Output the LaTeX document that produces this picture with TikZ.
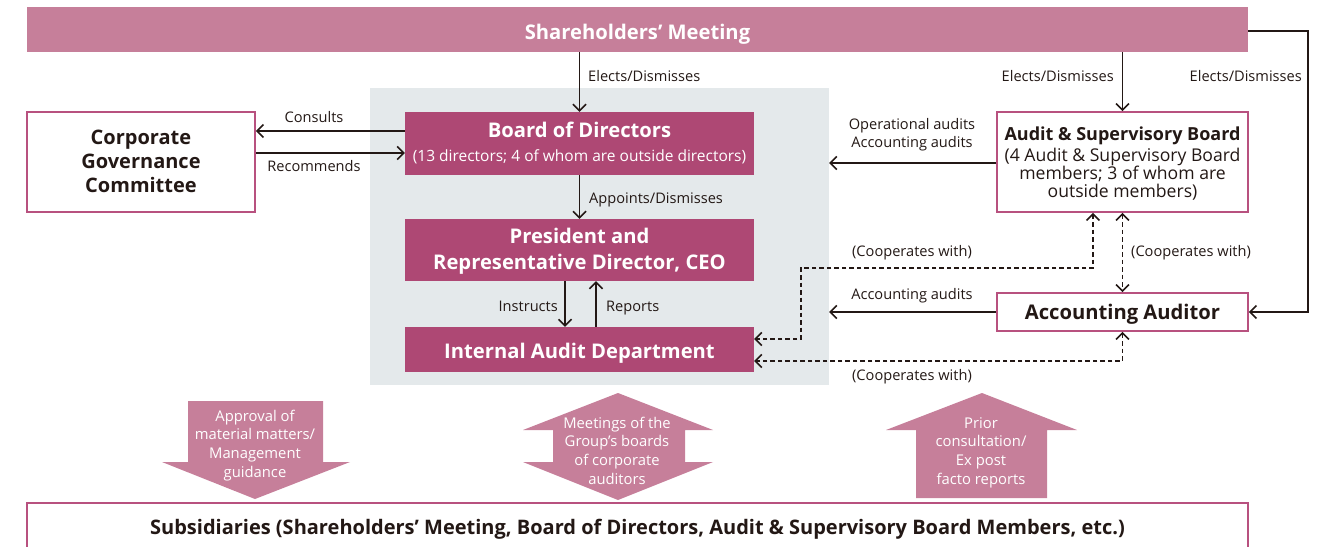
\documentclass[tikz,border=0pt]{standalone}
\usepackage{fontspec}
\setmainfont{Open Sans}
\usetikzlibrary{arrows.meta,calc}
\definecolor{barpink}{HTML}{C67F9A}
\definecolor{boxmag}{HTML}{AE4874}
\definecolor{edgepink}{HTML}{B8517F}
\definecolor{bggray}{HTML}{E4E9EB}
\definecolor{ink}{HTML}{231815}
\tikzset{
  lbl/.style={font=\fontsize{14.6}{18}\selectfont, text=ink, inner sep=0pt, anchor=base},
  darkbox/.style={fill=boxmag, inner sep=0pt},
  whitebox/.style={draw=edgepink, line width=1.8pt, fill=white, inner sep=0pt},
  wtxt/.style={text=white, inner sep=0pt, align=center, anchor=base},
  ktxt/.style={text=ink, inner sep=0pt, align=center, anchor=base},
  bigb/.style={font=\fontsize{20.2}{26}\selectfont\bfseries},
  tipx/.tip={Straight Barb[length=6.5pt,width=13pt,line width=1.5pt]},
  arr/.style={draw=ink, line width=1.5pt, -tipx},
  darr/.style={draw=ink, line width=1.5pt, dash pattern=on 4.5pt off 3pt, tipx-tipx},
  blk/.style={fill=barpink},
  blktxt/.style={text=white, align=center, inner sep=0pt, anchor=base, font=\fontsize{14.8}{18.8}\selectfont},
}
\begin{document}
\begin{tikzpicture}[x=1pt,y=-1pt]
\useasboundingbox (0,0) rectangle (1322,546);
% background
\node[fill=bggray, minimum width=459pt, minimum height=297pt, inner sep=0pt] (bg) at (599.5,236.5) {};
% top bar
\node[fill=barpink, minimum width=1221pt, minimum height=45pt, inner sep=0pt] (sm) at (637.5,29.5) {};
\node[wtxt, bigb] (smt) at (637.5,39.3) {Shareholders’ Meeting};
% main boxes
\node[darkbox, minimum width=349pt, minimum height=63pt] (bod) at (579.5,143.5) {};
\node[wtxt, bigb] (bodt) at (579.5,137.3) {Board of Directors};
\node[wtxt, font=\fontsize{15.5}{18}\selectfont] (bods) at (579.5,161) {(13 directors; 4 of whom are outside directors)};
\node[darkbox, minimum width=349pt, minimum height=62pt] (pres) at (579.5,250) {};
\node[wtxt, bigb] (prest) at (579.5,269.5) {President and\\Representative Director, CEO};
\node[darkbox, minimum width=349pt, minimum height=45pt] (iad) at (579.5,349.5) {};
\node[wtxt, bigb] (iadt) at (579.5,358.3) {Internal Audit Department};
\node[whitebox, minimum width=228pt, minimum height=100pt] (cgc) at (141,162) {};
\node[ktxt, font=\fontsize{20}{24.2}\selectfont\bfseries] (cgct) at (141,192.5) {Corporate\\Governance\\Committee};
\node[whitebox, minimum width=251pt, minimum height=100pt] (asb) at (1122.5,162) {};
\node[ktxt, font=\fontsize{18}{20}\selectfont\bfseries] (asbt) at (1122.5,140) {Audit \& Supervisory Board};
\node[ktxt, font=\fontsize{17.6}{17.9}\selectfont] (asbs) at (1122.5,197.5) {(4 Audit \& Supervisory Board\\members; 3 of whom are\\outside members)};
\node[whitebox, minimum width=251pt, minimum height=38pt] (aa) at (1122.5,312) {};
\node[ktxt, bigb] (aat) at (1122.5,319.8) {Accounting Auditor};
% subsidiaries
\node[whitebox, minimum width=1221pt, minimum height=60pt, anchor=north] (subs) at (637.5,502) {};
\node[ktxt, font=\fontsize{20}{26}\selectfont\bfseries] (subst) at (637.5,534)
  {Subsidiaries (Shareholders’ Meeting, Board of Directors, Audit \& Supervisory Board Members, etc.)};
% connectors
\draw[arr] (bod.north |- sm.south) -- (bod.north);
\node[lbl, anchor=base west] (l1) at (588,81.5) {Elects/Dismisses};
\draw[arr] (asb.north |- sm.south) -- (asb.north);
\node[lbl, anchor=base east] (l2) at (1114,81.5) {Elects/Dismisses};
\draw[arr] (sm.east |- 0,31) -- (1308,31) |- (aa.east);
\node[lbl, anchor=base east] (l3) at (1302,81.5) {Elects/Dismisses};
\draw[arr] (bod.west |- 0,131) -- (cgc.east |- 0,131);
\node[lbl] (l4) at (314,122.5) {Consults};
\draw[arr] (cgc.east |- 0,153) -- (bod.west |- 0,153);
\node[lbl] (l5) at (314,171) {Recommends};
\draw[arr] (bod.south) -- (pres.north);
\node[lbl, anchor=base west] (l6) at (589,203.3) {Appoints/Dismisses};
\draw[arr] (pres.south -| 565,0) -- (iad.north -| 565,0);
\node[lbl, anchor=base east] (l7) at (558,311.7) {Instructs};
\draw[arr] (iad.north -| 596,0) -- (pres.south -| 596,0);
\node[lbl, anchor=base west] (l8) at (606,311.7) {Reports};
\draw[arr] (asb.west |- 0,163) -- (bg.east |- 0,163);
\node[lbl, align=center] (l9) at (912,147.5) {Operational audits\\Accounting audits};
\draw[arr] (aa.west) -- (bg.east |- aa.west);
\node[lbl] (l10) at (912,299) {Accounting audits};
\draw[darr] (asb.south -| 1093,0) |- (801,268) |- (iad.east |- 0,339);
\node[lbl] (l11) at (912,256.7) {(Cooperates with)};
\draw[darr] (asb.south) -- (aa.north);
\node[lbl, anchor=base west] (l12) at (1131,256.7) {(Cooperates with)};
\draw[darr] (aa.south) |- (iad.east |- 0,361);
\node[lbl] (l13) at (912,380) {(Cooperates with)};
% block arrows
\fill[blk] (188,401) -- (323,401) -- (323,462) -- (350,462) -- (255,499) -- (162,462) -- (188,462) -- cycle;
\node[blktxt] (b1) at (255,477.5) {Approval of\\material matters/\\Management\\guidance};
\fill[blk] (618,393) -- (713,430) -- (685,430) -- (685,462) -- (713,462) -- (618,500) -- (523,462) -- (553,462) -- (553,430) -- (523,430) -- cycle;
\node[blktxt] (b2) at (617,484.5) {Meetings of the\\Group’s boards\\of corporate\\auditors};
\fill[blk] (982,393) -- (1077,430) -- (1047,430) -- (1047,498) -- (916,498) -- (916,430) -- (886,430) -- cycle;
\node[blktxt] (b3) at (981,484.5) {Prior\\consultation/\\Ex post\\facto reports};
\end{tikzpicture}
\end{document}
